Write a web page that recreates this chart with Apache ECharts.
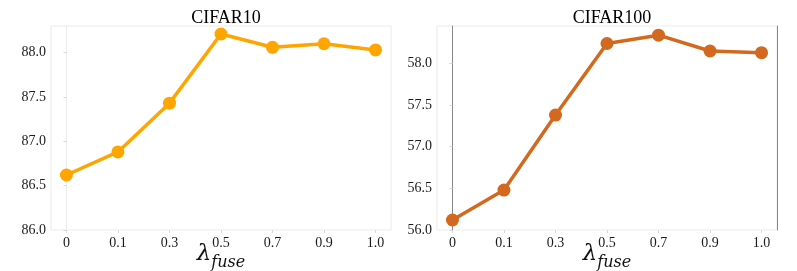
<!DOCTYPE html>
<html>
<head>
<meta charset="utf-8">
<script src="https://cdn.jsdelivr.net/npm/echarts@6/dist/echarts.min.js"></script>
<style>html,body{margin:0;padding:0;background:#fff;}#c{width:797px;height:271px;}</style>
</head>
<body>
<div id="c"></div>
<script>
const categories = ['0', '0.1', '0.3', '0.5', '0.7', '0.9', '1.0'];
const cifar10 = [86.62, 86.88, 87.43, 88.21, 88.06, 88.10, 88.03];
const cifar100 = [56.12, 56.48, 57.38, 58.24, 58.34, 58.15, 58.13];
const yTicks10 = [86.0, 86.5, 87.0, 87.5, 88.0];
const yTicks100 = [56.0, 56.5, 57.0, 57.5, 58.0];
const titles = ['CIFAR10', 'CIFAR100'];

const chart = echarts.init(document.getElementById('c'));
const idx = categories.map((_, i) => i);
const serif = '"Liberation Serif", serif';
const grids = [
  {left: 51, top: 26, width: 340, height: 204},
  {left: 437, top: 26, width: 340, height: 204}
];
function xAxis(g) {
  return {
    type: 'value', gridIndex: g, min: -0.3, max: 6.3,
    splitLine: {show: false},
    axisLine: {show: false},
    axisTick: {show: true, customValues: idx, length: 3, lineStyle: {color: '#d8d8d8'}},
    axisLabel: {customValues: idx, formatter: v => categories[Math.round(v)], fontFamily: serif, fontSize: 14, color: '#1a1a1a', margin: 6},
    name: '{l|λ}{s|fuse}', nameLocation: 'middle', nameGap: 12, nameMoveOverlap: false,
    nameTextStyle: {
      rich: {
        l: {fontFamily: 'DejaVu Serif', fontStyle: 'italic', fontSize: 23, color: '#111', verticalAlign: 'bottom', lineHeight: 24},
        s: {fontFamily: 'DejaVu Serif', fontStyle: 'italic', fontSize: 16, color: '#111', verticalAlign: 'bottom', lineHeight: 16, padding: [0, 0, -5, 0]}
      }
    }
  };
}
function yAxis(g, ticks, min, max, spineColor) {
  return {
    type: 'value', gridIndex: g, min: min, max: max,
    splitLine: {show: false},
    axisLine: {show: true, lineStyle: {color: spineColor, width: 1}},
    axisTick: {show: true, customValues: ticks, length: 3, lineStyle: {color: '#d8d8d8'}},
    axisLabel: {customValues: ticks, formatter: v => v.toFixed(1), fontFamily: serif, fontSize: 14, color: '#1a1a1a', margin: 5}
  };
}
chart.setOption({
  animation: false,
  backgroundColor: '#fff',
  textStyle: {fontFamily: serif},
  title: [
    {text: titles[0], left: 221, top: 4, textAlign: 'center', textStyle: {fontFamily: serif, fontSize: 18, fontWeight: 'normal', color: '#000'}},
    {text: titles[1], left: 607, top: 4, textAlign: 'center', textStyle: {fontFamily: serif, fontSize: 18, fontWeight: 'normal', color: '#000'}}
  ],
  grid: grids.map(g => Object.assign({show: true, borderColor: '#ebebeb', borderWidth: 1, backgroundColor: 'transparent', outerBoundsMode: 'none', containLabel: false}, g)),
  xAxis: [xAxis(0), xAxis(1)],
  yAxis: [
    yAxis(0, yTicks10, 86.0, 88.3, '#ebebeb'),
    yAxis(1, yTicks100, 56.0, 58.45, '#888'),
    {type: 'value', gridIndex: 1, position: 'right', min: 56.0, max: 58.45, splitLine: {show: false},
     axisLine: {show: true, lineStyle: {color: '#888', width: 1}}, axisTick: {show: false}, axisLabel: {show: false}}
  ],
  series: [
    {type: 'line', xAxisIndex: 0, yAxisIndex: 0, data: cifar10.map((v, i) => [i, v]),
     symbol: 'circle', symbolSize: 13, lineStyle: {width: 3.5, color: '#FFA500'}, itemStyle: {color: '#FFA500'}},
    {type: 'line', xAxisIndex: 1, yAxisIndex: 1, data: cifar100.map((v, i) => [i, v]),
     symbol: 'circle', symbolSize: 13, lineStyle: {width: 3.5, color: '#D2691E'}, itemStyle: {color: '#D2691E'}}
  ]
});
</script>
</body>
</html>
